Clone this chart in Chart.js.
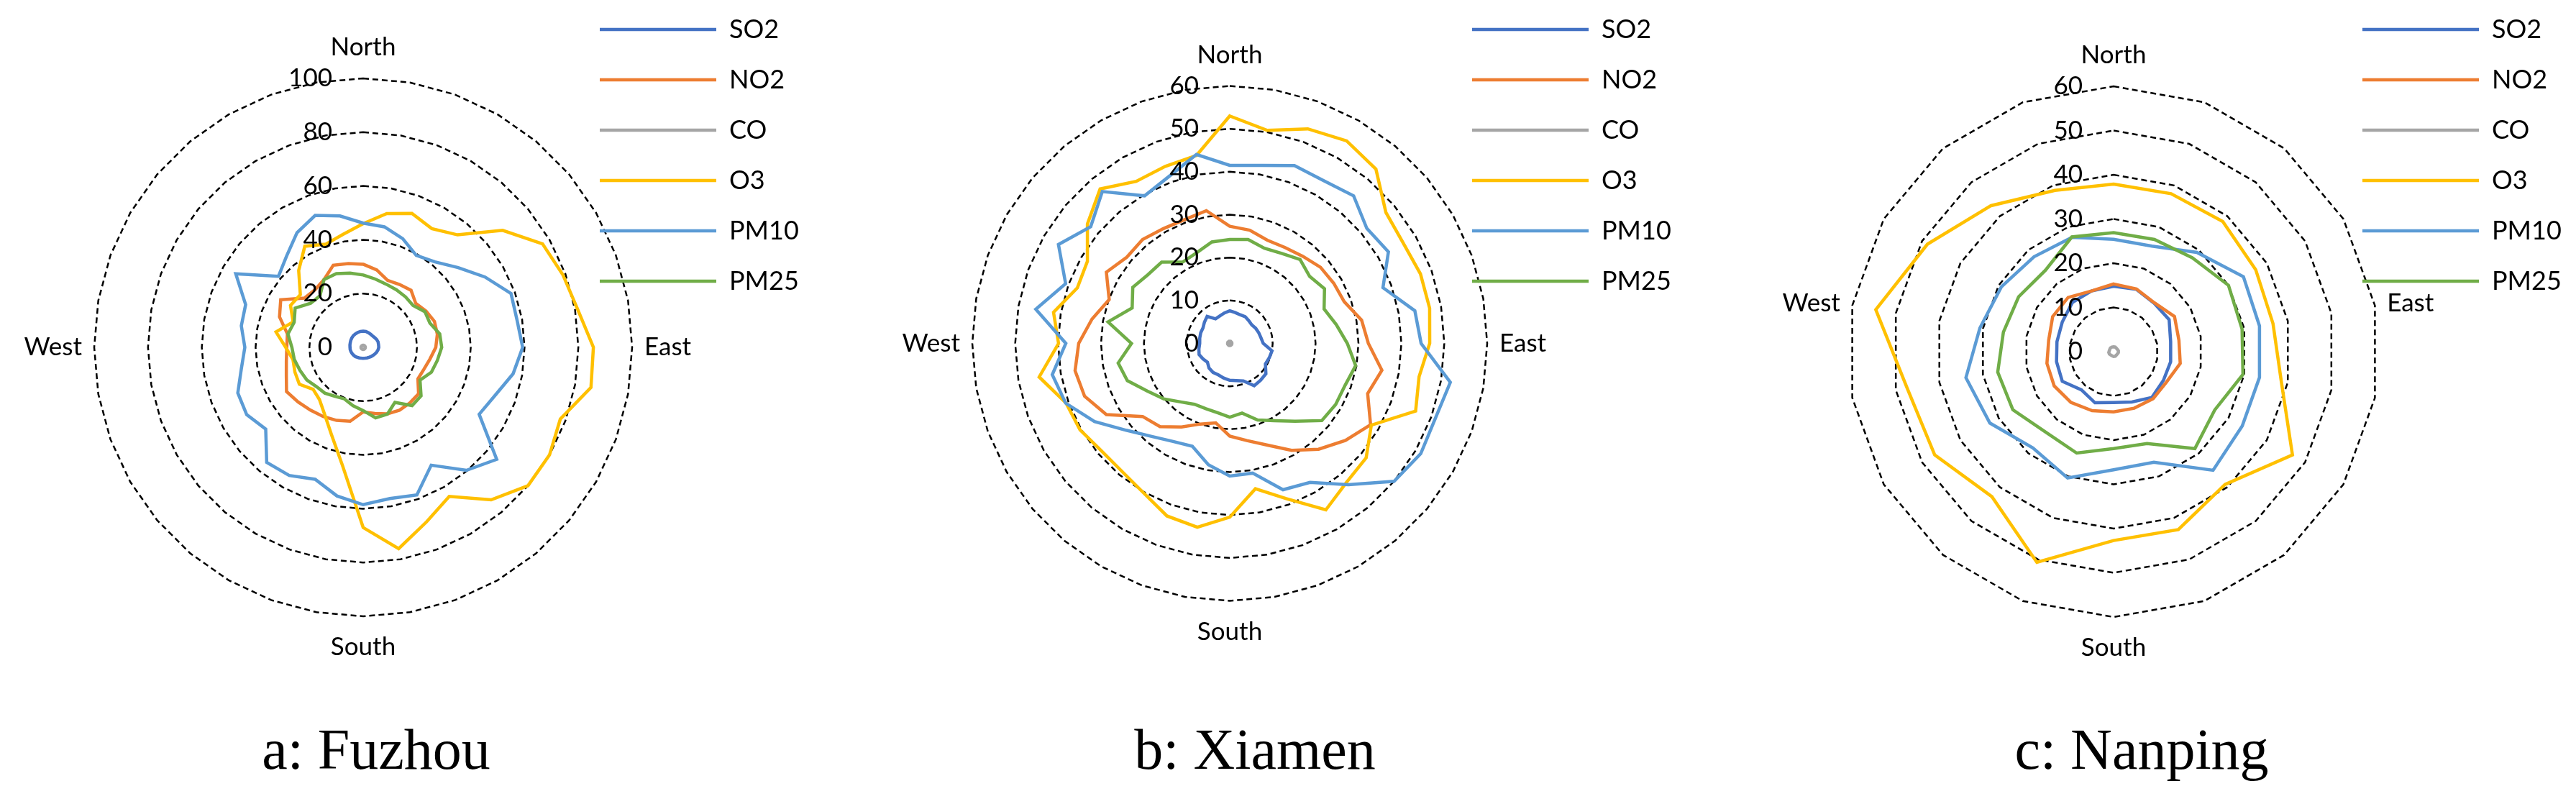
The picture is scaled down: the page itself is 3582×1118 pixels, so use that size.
<!DOCTYPE html>
<html>
<head>
<meta charset="utf-8">
<script src="https://cdn.jsdelivr.net/npm/chart.js@4.4.1/dist/chart.umd.min.js"></script>
<style>
  html, body { margin: 0; padding: 0; background: #fff; }
  body { width: 3582px; height: 1118px; position: relative; overflow: hidden; }
  canvas { position: absolute; top: -11px; }
  .caption {
    position: absolute; top: 1002px;
    font-family: "Liberation Serif", serif; font-size: 80px; line-height: 1;
    color: #000; white-space: nowrap; transform: translateX(-50%);
  }
</style>
</head>
<body>
<canvas id="chartA" width="1500" height="1000" style="left:0px"></canvas>
<canvas id="chartB" width="1520" height="1000" style="left:1194px"></canvas>
<canvas id="chartC" width="1565" height="1000" style="left:2388px"></canvas>
<div class="caption" style="left:523px">a: Fuzhou</div>
<div class="caption" style="left:1745px">b: Xiamen</div>
<div class="caption" style="left:2978px">c: Nanping</div>
<script>
// wind directions, 10 degree steps for Fuzhou and Xiamen, 20 degree steps for Nanping
const dirs36 = Array(36).fill('');
dirs36[0] = 'North'; dirs36[9] = 'East'; dirs36[18] = 'South'; dirs36[27] = 'West';
const dirs18 = Array(18).fill('');
dirs18[0] = 'North'; dirs18[4] = 'East'; dirs18[9] = 'South'; dirs18[14] = 'West';

const seriesNames = ['SO2', 'NO2', 'CO', 'O3', 'PM10', 'PM25'];
const seriesColors = ['#4472C4', '#ED7D31', '#A5A5A5', '#FFC000', '#5B9BD5', '#70AD47'];

// a: Fuzhou
const so2A = [6, 6, 5.8, 5.6, 5.5, 5.6, 5.8, 5.9, 5.8, 5.8, 5.6, 5.3, 5, 4.7, 4.5, 4.3, 4.2, 4.1, 4.1, 4.1, 4.2, 4.3, 4.5, 4.6, 4.7, 4.8, 4.9, 4.9, 5, 5.1, 5.3, 5.5, 5.7, 5.8, 5.9, 6];
const no2A = [30.9, 29.2, 26.5, 27, 27.7, 25.5, 27, 28.2, 28, 27, 25.2, 24, 23.5, 26.9, 27, 27, 26.3, 25, 24, 27.9, 28.9, 29.7, 30.5, 31.6, 32.9, 30.4, 29, 28.4, 28.6, 33.1, 35.4, 28.5, 27.9, 29.1, 32.5, 31.6];
const coA = [0.8, 0.8, 0.7, 0.7, 0.8, 0.8, 0.7, 0.7, 0.8, 0.8, 0.8, 0.7, 0.7, 0.8, 0.8, 0.7, 0.7, 0.8, 0.8, 0.8, 0.7, 0.7, 0.8, 0.8, 0.7, 0.7, 0.8, 0.8, 0.8, 0.7, 0.7, 0.8, 0.8, 0.7, 0.7, 0.8];
const o3A = [46, 50.5, 53, 51, 54.6, 67.7, 77, 79, 81, 85.6, 86, 78, 80, 80, 74, 64, 69, 76, 67, 44.5, 34.5, 28.7, 25.3, 24.3, 27.4, 27, 26.5, 28.8, 32.9, 27.7, 31.2, 30.5, 37.3, 43.4, 40.8, 42.7];
const pm10A = [46.2, 45.5, 43, 39.5, 41.5, 46.1, 52.3, 58.5, 58.1, 59.3, 56.6, 52.2, 49.8, 64.8, 59.7, 50.6, 58.4, 57.1, 58.5, 56.1, 52.2, 55, 55.8, 47.3, 50, 49.6, 46, 44, 46, 46.5, 54.7, 41.1, 44.3, 49.2, 52.2, 49.6];
const pm25A = [26.9, 25.8, 25, 24.7, 24.5, 24.2, 26.5, 26.4, 28.9, 29.2, 28, 27, 24.4, 28.1, 28.3, 23.6, 26.4, 26.6, 23.5, 22, 20.4, 21, 22.2, 22.7, 24.2, 25, 26, 26.5, 28.4, 27.3, 29.2, 25.5, 25, 29.1, 29.2, 28];

// b: Xiamen
const so2B = [7.6, 7.3, 7.1, 7.2, 6.9, 6.7, 7, 7.2, 7.4, 7.8, 10, 9.8, 9.6, 11, 11.2, 11.4, 9.3, 8.8, 8.6, 8.2, 7.8, 7.8, 7.5, 6.8, 7.2, 7.6, 7.3, 7, 7.1, 7.2, 7.2, 7.7, 8.2, 6.6, 6.8, 7.2];
const no2B = [27.3, 26.8, 25.6, 25.8, 26.5, 27.6, 28, 28.4, 31.2, 32.3, 36, 34.2, 37.9, 35.2, 32.2, 28.8, 25.2, 23, 21.6, 18.8, 20, 22.5, 25.3, 26.5, 33.2, 36, 36.6, 35.2, 32.6, 29.9, 33.2, 31.3, 31.6, 30.9, 30.7, 31.4];
const coB = [0.5, 0.5, 0.5, 0.4, 0.5, 0.5, 0.5, 0.4, 0.5, 0.5, 0.5, 0.5, 0.4, 0.5, 0.5, 0.5, 0.4, 0.5, 0.5, 0.5, 0.5, 0.4, 0.5, 0.5, 0.5, 0.4, 0.5, 0.5, 0.5, 0.5, 0.4, 0.5, 0.5, 0.5, 0.4, 0.5];
const o3B = [53, 50.4, 53.2, 54.5, 53, 47.5, 46.7, 47.3, 47.3, 46.6, 44.8, 46.1, 38.1, 41.5, 42.3, 44.8, 38.5, 34.4, 40.5, 43.5, 42.8, 40.2, 39, 39, 40.3, 40.6, 45.1, 39.9, 41.7, 37.8, 38.3, 43.3, 47, 43.6, 43.9, 44.5];
const pm10B = [41.5, 42.1, 44.1, 43.8, 44.9, 41.7, 42.7, 38, 43.8, 44.6, 52.2, 51, 51.4, 50, 43, 37.4, 36.3, 30.7, 30.9, 28.7, 25.5, 26.4, 28.3, 31.5, 36.4, 40.7, 42, 38.2, 45.9, 40.7, 46.1, 42.3, 46.2, 39.7, 41.4, 44.7];
const pm25B = [24.2, 24.6, 23.6, 24.2, 25.5, 24.3, 25.5, 23.4, 25.2, 27.4, 29.8, 28.6, 28.5, 28, 23.7, 20.8, 19, 16.5, 17.2, 16.4, 16.2, 16.4, 17.8, 20.1, 22.2, 25.4, 26.4, 22.9, 28.8, 24.2, 26.1, 24.9, 24.7, 21.9, 22.5, 24];

// c: Nanping
const so2C = [14.8, 15, 14.3, 14.5, 13.1, 13.1, 13, 13.5, 12.1, 11.5, 12.3, 11.3, 13.4, 13.1, 13, 13.4, 14.5, 14.6];
const no2C = [15.3, 15.1, 14.4, 15.9, 15, 15.3, 13.8, 13.9, 13.6, 13.6, 14.2, 15, 15.5, 15.3, 14.9, 15.9, 16, 14.6];
const coC = [1.1, 1.1, 1, 1, 1.1, 1.1, 1, 1, 1.1, 1.1, 1, 1, 1.1, 1.1, 1, 1, 1.1, 1.1];
const o3C = [37.9, 38, 38.4, 37.1, 36.6, 38.5, 46.7, 39.2, 42.8, 42.7, 50.7, 42.8, 46.7, 47.4, 54.6, 48.6, 43.1, 38.8];
const pm10C = [25.4, 25.4, 29.3, 33.9, 33.5, 33.5, 33.6, 35, 26.6, 26.7, 30.4, 28.4, 32.3, 33.9, 30.7, 29.3, 28, 27.5];
const pm25C = [26.9, 27, 27.7, 30, 29.5, 29.7, 26.4, 28.6, 22.1, 21.9, 24.4, 23.8, 26.3, 26.6, 25.3, 24.8, 24, 27.6];

const labelFont = 'Lato';

// tick numbers just left of the north axis; compass words outside the outer ring
const axisText = {
  id: 'axisText',
  afterDraw(chart) {
    const s = chart.scales.r;
    const ctx = chart.ctx;
    ctx.save();
    ctx.fillStyle = '#000';
    ctx.font = '35px ' + labelFont;
    ctx.textBaseline = 'middle';
    ctx.textAlign = 'right';
    s.ticks.forEach(t => {
      ctx.fillText(String(t.value), s.xCenter - 43, s.yCenter - s.getDistanceFromCenterForValue(t.value));
    });
    chart.data.labels.forEach((lab, i) => {
      if (!lab) return;
      const sin = Math.sin(s.getIndexAngle(i));
      if (Math.abs(sin) < 0.5) {
        const p = s.getPointPosition(i, s.drawingArea + 43);
        ctx.textAlign = 'center';
        ctx.fillText(lab, p.x, p.y);
      } else {
        const p = s.getPointPosition(i, s.drawingArea + 17);
        ctx.textAlign = sin > 0 ? 'left' : 'right';
        ctx.fillText(lab, p.x, p.y);
      }
    });
    ctx.restore();
  }
};

function makeRadar(id, labels, values, max, step, geo) {
  const datasets = values.map((v, i) => ({
    label: seriesNames[i],
    data: v,
    borderColor: seriesColors[i],
    backgroundColor: seriesColors[i],
    borderWidth: 4.5,
    pointRadius: 0,
    fill: false,
    clip: false,
    order: values.length - i
  }));
  new Chart(document.getElementById(id), {
    type: 'radar',
    data: { labels: labels, datasets: datasets },
    plugins: [axisText],
    options: {
      responsive: false,
      animation: false,
      devicePixelRatio: 1,
      layout: { padding: { left: geo.legendX - 34 - geo.left, top: 0, right: 0, bottom: 0 } },
      plugins: {
        tooltip: { enabled: false },
        legend: {
          position: 'left',
          align: 'start',
          labels: {
            usePointStyle: true,
            pointStyle: 'line',
            pointStyleWidth: 162,
            padding: 34,
            color: '#000',
            font: { family: labelFont, size: 36 },
            sort: (a, b) => a.datasetIndex - b.datasetIndex
          }
        }
      },
      scales: {
        r: {
          min: 0,
          max: max,
          ticks: { stepSize: step, display: false },
          pointLabels: { display: false },
          angleLines: { display: false },
          grid: { color: '#000', lineWidth: 2.5 },
          border: { dash: [8, 5] },
          afterFit: (scale) => {
            scale.xCenter = geo.cx - geo.left;
            scale.yCenter = geo.cy + 11;
            scale.drawingArea = geo.r;
          }
        }
      }
    }
  });
}

makeRadar('chartA', dirs36, [so2A, no2A, coA, o3A, pm10A, pm25A], 100, 20,
  { left: 0, legendX: 834, cx: 505, cy: 483, r: 374 });
makeRadar('chartB', dirs36, [so2B, no2B, coB, o3B, pm10B, pm25B], 60, 10,
  { left: 1194, legendX: 2047, cx: 1710, cy: 477.5, r: 358 });
makeRadar('chartC', dirs18, [so2C, no2C, coC, o3C, pm10C, pm25C], 60, 10,
  { left: 2388, legendX: 3285, cx: 2939, cy: 489, r: 369 });
</script>
</body>
</html>
